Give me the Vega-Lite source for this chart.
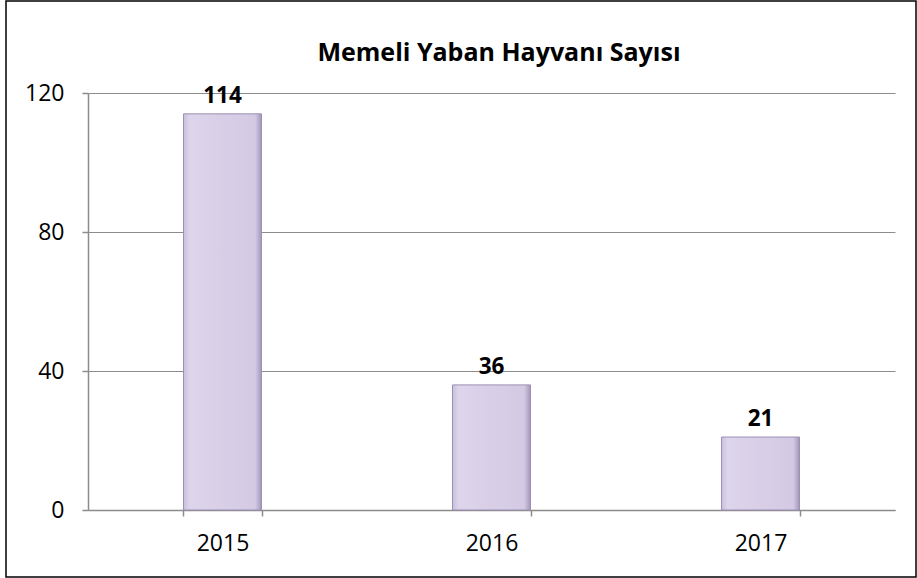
{
  "$schema": "https://vega.github.io/schema/vega-lite/v6.json",
  "width": 917,
  "height": 578,
  "autosize": {"type": "fit", "contains": "padding"},
  "padding": {"left": 6, "top": 1, "right": 1, "bottom": 1},
  "background": "white",
  "title": {
    "text": "Memeli Yaban Hayvanı Sayısı",
    "font": "Open Sans",
    "fontSize": 25,
    "fontWeight": "bold",
    "color": "#000000",
    "anchor": "middle",
    "frame": "group",
    "offset": -65,
    "dx": 38
  },
  "data": {
    "values": [
      {"year": "2015", "count": 114},
      {"year": "2016", "count": 36},
      {"year": "2017", "count": 21}
    ]
  },
  "encoding": {
    "x": {
      "field": "year",
      "type": "nominal",
      "scale": {"range": [82, 889], "paddingInner": 0.71, "paddingOuter": 0.355},
      "axis": {
        "title": null,
        "labelAngle": 0,
        "offset": -67,
        "tickBand": "extent",
        "domainColor": "#8c8c8c",
        "domainWidth": 1.5,
        "tickColor": "#8c8c8c",
        "tickWidth": 1.5,
        "tickSize": 6,
        "labelPadding": 16,
        "labelFont": "Open Sans",
        "labelFontSize": 23,
        "labelColor": "#000000",
        "grid": false
      }
    },
    "y": {
      "field": "count",
      "type": "quantitative",
      "scale": {"domain": [0, 120], "range": [509, 92], "nice": false},
      "axis": {
        "title": null,
        "values": [0, 40, 80, 120],
        "offset": -82,
        "domain": true,
        "domainColor": "#8c8c8c",
        "domainWidth": 1.5,
        "tickColor": "#8c8c8c",
        "tickWidth": 1.5,
        "tickSize": 6,
        "labelPadding": 18,
        "labelFont": "Open Sans",
        "labelFontSize": 23,
        "labelColor": "#000000",
        "grid": true,
        "gridColor": "#8c8c8c",
        "gridWidth": 1
      }
    }
  },
  "layer": [
    {
      "mark": {
        "type": "bar",
        "fill": {
          "gradient": "linear",
          "x1": 0, "y1": 0, "x2": 1, "y2": 0,
          "stops": [
            {"offset": 0, "color": "#c9bfdc"},
            {"offset": 0.08, "color": "#ddd5ec"},
            {"offset": 0.5, "color": "#d8cfe7"},
            {"offset": 0.92, "color": "#d3c9e4"},
            {"offset": 1, "color": "#a497b9"}
          ]
        },
        "stroke": "#9c90b2",
        "strokeWidth": 1
      }
    },
    {
      "mark": {
        "type": "text",
        "baseline": "bottom",
        "dy": -6,
        "font": "Open Sans",
        "fontSize": 22.5,
        "fontWeight": "bold",
        "color": "#000000"
      },
      "encoding": {"text": {"field": "count", "type": "quantitative"}}
    }
  ],
  "config": {
    "view": {"stroke": "#000000", "strokeWidth": 1.5}
  }
}
